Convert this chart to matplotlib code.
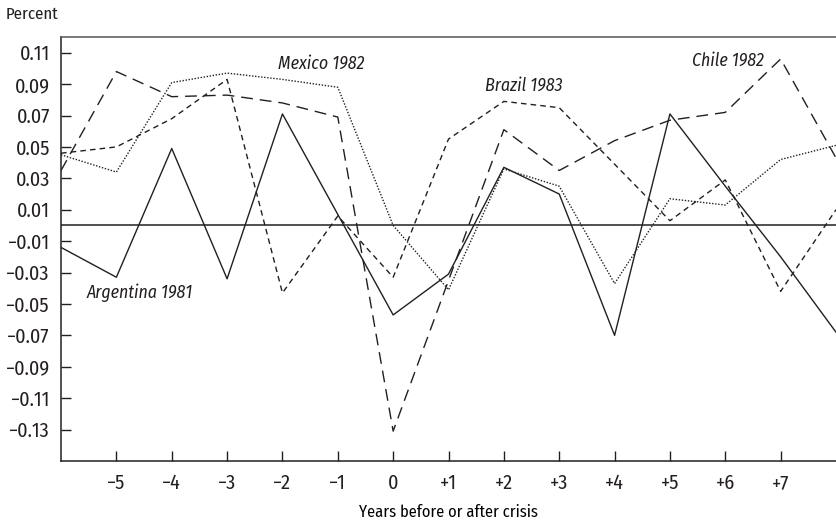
import matplotlib
matplotlib.use("Agg")
import matplotlib.pyplot as plt
from matplotlib import font_manager

# years relative to the crisis year
years = list(range(-6, 9))

argentina_1981 = [-0.014, -0.033, 0.049, -0.034, 0.071, 0.007, -0.057, -0.031,
                  0.037, 0.020, -0.070, 0.071, 0.025, -0.020, -0.068]
mexico_1982 = [0.045, 0.034, 0.091, 0.097, 0.093, 0.088, 0.000, -0.041,
               0.036, 0.025, -0.037, 0.017, 0.013, 0.042, 0.051]
brazil_1983 = [0.046, 0.050, 0.068, 0.093, -0.043, 0.006, -0.033, 0.055,
               0.079, 0.075, 0.039, 0.003, 0.029, -0.042, 0.010]
chile_1982 = [0.035, 0.098, 0.082, 0.083, 0.078, 0.069, -0.131, -0.035,
              0.061, 0.035, 0.054, 0.067, 0.072, 0.106, 0.043]

y_ticks = [0.11, 0.09, 0.07, 0.05, 0.03, 0.01, -0.01, -0.03, -0.05,
           -0.07, -0.09, -0.11, -0.13]
x_ticks = [-5, -4, -3, -2, -1, 0, 1, 2, 3, 4, 5, 6, 7]
x_tick_labels = ["\u22125", "\u22124", "\u22123", "\u22122", "\u22121", "0",
                 "+1", "+2", "+3", "+4", "+5", "+6", "+7"]

# a condensed face if one is around, DejaVu otherwise
installed = {f.name for f in font_manager.fontManager.ttflist}
narrow = [n for n in ["Fira Sans Condensed", "Roboto Condensed",
                      "Open Sans Condensed", "Archivo Narrow", "PT Sans Narrow"]
          if n in installed]
FONT = narrow[0] if narrow else "DejaVu Sans"
SCALE = 1.0 if narrow else 0.78
plt.rcParams["font.family"] = [FONT, "DejaVu Sans"]
plt.rcParams["text.color"] = "#231f20"


def main():
    fig = plt.figure(figsize=(8.36, 5.25), dpi=100)
    ax = fig.add_axes([0.073, 0.122, 0.927, 0.8075])

    ink = "#231f20"
    ax.plot(years, argentina_1981, color=ink, lw=1.0, ls="-")
    ax.plot(years, mexico_1982, color=ink, lw=1.0, ls=(0, (1, 1.2)))
    ax.plot(years, brazil_1983, color=ink, lw=1.0, ls=(0, (4, 3)))
    ax.plot(years, chile_1982, color=ink, lw=1.0, ls=(0, (8.5, 5)))
    ax.axhline(0, color=ink, lw=1.1)

    ax.set_xlim(-6, 8)
    ax.set_ylim(-0.15, 0.12)
    ax.set_yticks(y_ticks)
    ax.set_yticklabels([f"{v:.2f}".replace("-", "\u2212") for v in y_ticks])
    ax.set_xticks(x_ticks)
    ax.set_xticklabels(x_tick_labels)
    ax.tick_params(direction="in", length=7, width=1, colors=ink,
                   labelsize=14.5 * SCALE, pad=8)
    ax.tick_params(axis="x", pad=9)

    for side in ["left", "bottom", "top"]:
        ax.spines[side].set_color(ink)
        ax.spines[side].set_linewidth(1.1)
    ax.spines["top"].set_color("#555555")
    ax.spines["right"].set_visible(False)

    label_kw = dict(fontsize=12.8 * SCALE, style="italic", ha="center", va="center")
    ax.text(-1.3, 0.103, "Mexico 1982", **label_kw)
    ax.text(2.36, 0.089, "Brazil 1983", **label_kw)
    ax.text(6.05, 0.105, "Chile 1982", **label_kw)
    ax.text(-4.58, -0.043, "Argentina 1981", **label_kw)

    fig.text(0.007, 0.973, "Percent", fontsize=12 * SCALE, ha="left", va="center")
    ax.set_xlabel("Years before or after crisis", fontsize=11.8 * SCALE, labelpad=8)

    fig.savefig("out.png", dpi=100)
    plt.close(fig)


if __name__ == "__main__":
    main()
